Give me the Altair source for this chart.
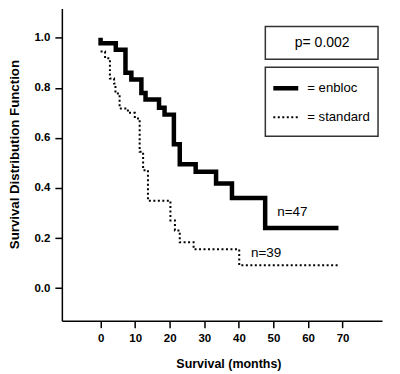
import altair as alt
import pandas as pd

# ---- data ----
enbloc_months = [0, 0, 4.4, 7.2, 8.9, 11.8, 13.0, 16.9, 18.5, 21.2, 22.9, 27.5, 33.4, 38.0, 47.6, 68.8]
enbloc_surv = [1.0, 0.978, 0.952, 0.86, 0.833, 0.779, 0.753, 0.72, 0.693, 0.575, 0.495, 0.465, 0.418, 0.36, 0.24, 0.24]

standard_months = [0, 1.3, 2.7, 3.9, 4.3, 5.5, 7.9, 9.9, 11.3, 12.3, 13.7, 20.2, 21.5, 22.9, 26.9, 40.1, 69.0]
standard_surv = [0.945, 0.918, 0.837, 0.817, 0.777, 0.717, 0.70, 0.678, 0.545, 0.471, 0.349, 0.27, 0.23, 0.183, 0.155, 0.091, 0.091]

label_text = ["n=47", "n=39"]
label_month = [51.1, 43.5]
label_surv = [0.305, 0.142]

x_ticks = [0, 10, 20, 30, 40, 50, 60, 70]
y_ticks = [0.0, 0.2, 0.4, 0.6, 0.8, 1.0]

p_text = "p= 0.002"
legend_labels = ["= enbloc", "= standard"]

FONT = "Liberation Sans, Arial, sans-serif"

enbloc = pd.DataFrame({"month": enbloc_months, "surv": enbloc_surv,
                       "i": list(range(len(enbloc_months)))})
standard = pd.DataFrame({"month": standard_months, "surv": standard_surv,
                         "i": list(range(len(standard_months)))})
labels = pd.DataFrame({"t": label_text, "month": label_month, "surv": label_surv})

xscale = alt.Scale(domain=[-11.2, 81.4], nice=False, zero=False)
yscale = alt.Scale(domain=[-0.13, 1.117], nice=False, zero=False)

xaxis = alt.Axis(values=x_ticks, title="Survival (months)", format="d",
                 titleX=167, titleY=43, titleAlign="center", titleBaseline="middle",
                 titleFontSize=12.5, titleFont=FONT, titleFontWeight="bold")
yaxis = alt.Axis(values=y_ticks, title="Survival Distribution Function", format=".1f",
                 titleX=-47, titleY=146, titleAngle=270, titleAlign="center",
                 titleBaseline="middle", titleFontSize=13.3, titleFont=FONT,
                 titleFontWeight="bold")

solid = alt.Chart(enbloc).mark_line(
    interpolate="step-after", color="black", strokeWidth=4.5, strokeJoin="miter", strokeCap="butt"
).encode(
    x=alt.X("month:Q", scale=xscale, axis=xaxis),
    y=alt.Y("surv:Q", scale=yscale, axis=yaxis),
    order="i:Q",
)

dotted = alt.Chart(standard).mark_line(
    interpolate="step-after", color="black", strokeWidth=2, strokeDash=[2, 2.5]
).encode(
    x=alt.X("month:Q", scale=xscale),
    y=alt.Y("surv:Q", scale=yscale),
    order="i:Q",
)

ntext = alt.Chart(labels).mark_text(
    align="left", baseline="middle", font=FONT, fontSize=13.5, color="black"
).encode(
    x=alt.X("month:Q", scale=xscale),
    y=alt.Y("surv:Q", scale=yscale),
    text="t:N",
)

# annotation boxes (placed in pixels, like the original's drawn boxes)
pbox = alt.Chart(pd.DataFrame({"a": [0]})).mark_rect(
    fill="white", stroke="#333", strokeWidth=1.5
).encode(x=alt.value(204), x2=alt.value(317), y=alt.value(18), y2=alt.value(51))

ptext = alt.Chart(pd.DataFrame({"t": [p_text]})).mark_text(
    align="center", baseline="middle", font=FONT, fontSize=14, color="black"
).encode(x=alt.value(261), y=alt.value(35), text="t:N")

lbox = alt.Chart(pd.DataFrame({"a": [0]})).mark_rect(
    fill="white", stroke="#333", strokeWidth=1.5
).encode(x=alt.value(204), x2=alt.value(317), y=alt.value(59), y2=alt.value(128))

lsolid = alt.Chart(pd.DataFrame({"a": [0]})).mark_rule(
    color="black", strokeWidth=4.5
).encode(x=alt.value(212), x2=alt.value(237), y=alt.value(80))

ldotted = alt.Chart(pd.DataFrame({"a": [0]})).mark_rule(
    color="black", strokeWidth=2, strokeDash=[2, 2.5]
).encode(x=alt.value(212), x2=alt.value(237), y=alt.value(109))

ltext1 = alt.Chart(pd.DataFrame({"t": [legend_labels[0]]})).mark_text(
    align="left", baseline="middle", font=FONT, fontSize=13.2, color="black"
).encode(x=alt.value(246), y=alt.value(80), text="t:N")

ltext2 = alt.Chart(pd.DataFrame({"t": [legend_labels[1]]})).mark_text(
    align="left", baseline="middle", font=FONT, fontSize=13.2, color="black"
).encode(x=alt.value(246), y=alt.value(109), text="t:N")

chart = alt.layer(
    solid, dotted, ntext, pbox, ptext, lbox, lsolid, ldotted, ltext1, ltext2
).properties(
    width=321, height=313,
    autosize=alt.AutoSizeParams(type="none"),
    padding={"left": 54, "top": 0, "right": 10, "bottom": 52},
    background="white",
).configure_view(
    stroke=None
).configure_axis(
    grid=False,
    domainColor="black", domainWidth=1.5,
    tickColor="black", tickWidth=1.5, tickSize=7,
    labelFont=FONT, labelFontWeight="bold", labelFontSize=11.5,
    labelColor="black", labelPadding=5, titleColor="black",
)

chart.save("out.html", embed_options={"renderer": "svg", "actions": False})
